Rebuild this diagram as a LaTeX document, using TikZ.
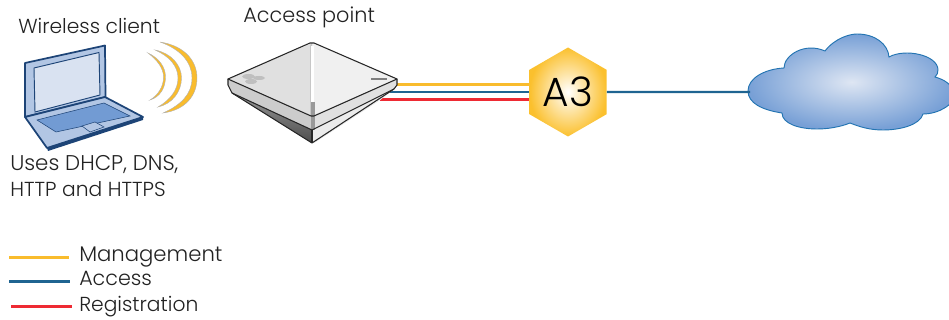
\documentclass[tikz,border=0pt]{standalone}
\usepackage{fontspec}
\setmainfont{Poppins Light}
\usetikzlibrary{shapes.geometric}
\definecolor{ink}{HTML}{222222}
\definecolor{mgmt}{HTML}{F9BC2D}
\definecolor{acc}{HTML}{1F6491}
\definecolor{reg}{HTML}{EE2A33}
\definecolor{lapline}{HTML}{1D4477}
\definecolor{lapmid}{RGB}{178,198,228}
\definecolor{lapscr}{RGB}{217,226,241}
\definecolor{lapkey}{RGB}{114,155,211}
\tikzset{
  x=0.75pt,y=-0.75pt,
  lbl/.style={anchor=base west,inner sep=0pt,text=ink,font=\fontsize{15.2}{18}\selectfont},
  mgmtline/.style={draw=mgmt,line width=1.6pt},
  accline/.style={draw=acc,line width=1.6pt},
  regline/.style={draw=reg,line width=1.6pt},
  lap/.style={draw=lapline,line width=1.3pt,line join=round},
  wave/.style={fill=mgmt,draw=gray!60,line width=0.3pt},
  ap/.style={draw=black!85,line width=0.8pt,line join=round},
}
\begin{document}
\begin{tikzpicture}
\useasboundingbox (0,0) rectangle (949,320);
% labels
\node[lbl] (wc) at (18,34) {Wireless client};
\node[lbl,font=\fontsize{15.6}{18}\selectfont] (apl) at (243,23) {Access point};
\node[lbl,font=\fontsize{16}{18}\selectfont] (u1) at (10,171) {Uses DHCP, DNS,};
\node[lbl] (u2) at (10,197) {HTTP and HTTPS};
% laptop
\filldraw[lap,fill=lapmid] (25,63) -- (105,45.5) -- (105.5,97) -- (25,117) -- cycle;
\fill[fill=lapscr,draw=lapline,line width=0.7pt] (34,68) -- (99,52.5) -- (100,95) -- (35,112) -- cycle;
\filldraw[lap,fill=lapmid] (25,117) -- (105,97) -- (143,117) -- (47,148) -- cycle;
\fill[lapline] (47,148) -- (143,117) -- (143,120) -- (48,151) -- cycle;
\fill[fill=lapkey,draw=lapline,line width=0.4pt] (37,120) -- (104,103) -- (130,116) -- (56,132) -- cycle;
\fill[fill=lapmid,draw=lapline,line width=0.4pt] (82,126) -- (95,122) -- (104,127) -- (90,132) -- cycle;
% waves
\path[wave] (160,42) .. controls (186,46) and (197,62) .. (197,78) .. controls (197,96) and (185,110) .. (163,113) .. controls (181,105) and (192,94) .. (192,78) .. controls (192,62) and (180,49) .. (160,42) -- cycle;
\path[wave] (155,50) .. controls (171,53) and (181.5,65) .. (181.5,78) .. controls (181.5,92) and (172,104) .. (158,107) .. controls (170,100) and (178,90) .. (178,78) .. controls (178,66) and (169,56) .. (155,50) -- cycle;
\path[wave] (148,53) .. controls (159,58) and (165.5,67) .. (165.5,77) .. controls (165.5,88) and (160,97) .. (150,100) .. controls (158,95) and (163.5,87) .. (163.5,77) .. controls (163.5,68) and (157,60) .. (148,53) -- cycle;
% connectors sit under the access point and hexagon
\coordinate (py) at (390,84.5);
\coordinate (pb) at (385,92);
\coordinate (pr) at (380,99.5);
\coordinate (hy) at (535,84.5);
\coordinate (hb) at (535,92);
\coordinate (hr) at (535,99.5);
\coordinate (cw) at (750,92);
\draw[mgmtline] (py) -- (hy);
\draw[accline] (pb) -- (hb);
\draw[regline] (pr) -- (hr);
% access point
\fill[black!45] (228,85) -- (232,93) -- (312,143) -- (312,130) -- cycle;
\fill[black!10] (397,85) -- (394,89) -- (380,100) -- (314,143) -- (312,143) -- (312,130) -- cycle;
\fill[black!20] (228,79) -- (312,116) -- (312,130) -- (232,93) -- (228,85) -- cycle;
\shade[top color=black!40,bottom color=black!70] (232,93) -- (312,130) -- (312,143) -- cycle;
\fill[black!12] (312,116) -- (397,79) -- (397,85) -- (394,89) -- (312,130) -- cycle;
\fill[black!8] (312,130) -- (394,89) -- (380,100) -- (314,143) -- (312,143) -- cycle;
\fill[black!12] (312,43) -- (228,79) -- (312,116) -- cycle;
\fill[black!6] (312,43) -- (397,79) -- (312,116) -- cycle;
\fill[black!22] (310,45) -- (312,43) -- (312,116) -- (310,116) -- cycle;
\fill[white] (311,46) rectangle (314,102);
\fill[black!40] (311,102) rectangle (315,130);
\draw[ap] (228,79) -- (310,43) -- (314,43) -- (397,79) -- (314,116) -- (311,116) -- cycle;
\draw[ap] (228,79) -- (228,85) -- (232,93) -- (312,143) -- (394,89) -- (397,85) -- (397,79);
\draw[ap] (232,93) -- (312,130) -- (394,89);
\draw[ap] (312,130) -- (312,143);
\fill[black!25] (248.5,76.5) ellipse (6.5 and 2.5);
\fill[black!25] (259,78) ellipse (6 and 2);
\fill[black!25] (251,81.5) ellipse (6 and 2.5);
\fill[black!50] (371,78.5) rectangle (387,79.7);
% hexagon
\node[regular polygon,regular polygon sides=6,minimum size=66.75pt,inner sep=0pt,shape border rotate=30,
  inner color=white,outer color={rgb,255:red,251;green,192;blue,45},text=black,font=\fontsize{30.5}{32}\selectfont] (a3) at (568,92) {A3};
% cloud
\path[shade,inner color={rgb,255:red,222;green,230;blue,243},outer color={rgb,255:red,120;green,160;blue,214},draw={rgb,255:red,35;green,116;blue,178},line width=0.7pt]
 (748,91) .. controls (748,78) and (765,69) .. (784,68)
 .. controls (784,55) and (805,42) .. (825,51)
 .. controls (835,38) and (850,34) .. (857,34)
 .. controls (875,34) and (888,44) .. (889,57)
 .. controls (905,48) and (938,55) .. (938,70)
 .. controls (938,73) and (937,75) .. (935,77)
 .. controls (945,80) and (952,84) .. (955,95)
 .. controls (955,103) and (940,114) .. (923,114)
 .. controls (920,125) and (900,130) .. (883,130)
 .. controls (870,130) and (860,127) .. (850,123)
 .. controls (840,127) and (828,129) .. (817,129)
 .. controls (800,129) and (782,124) .. (782,113)
 .. controls (762,110) and (748,103) .. (748,91) -- cycle;
\draw[accline] (a3) -- (cw);
% legend
\coordinate (l1a) at (9,257.5); \coordinate (l1b) at (69,257.5);
\coordinate (l2a) at (9,281.5); \coordinate (l2b) at (70,281.5);
\coordinate (l3a) at (11,306.5); \coordinate (l3b) at (72,306.5);
\draw[mgmtline] (l1a) -- (l1b);
\draw[accline] (l2a) -- (l2b);
\draw[regline] (l3a) -- (l3b);
\node[lbl,font=\fontsize{15.9}{18}\selectfont] (m) at (79,262) {Management};
\node[lbl,font=\fontsize{15.5}{18}\selectfont] (a) at (79,286) {Access};
\node[lbl] (r) at (79,311) {Registration};
\end{tikzpicture}
\end{document}
